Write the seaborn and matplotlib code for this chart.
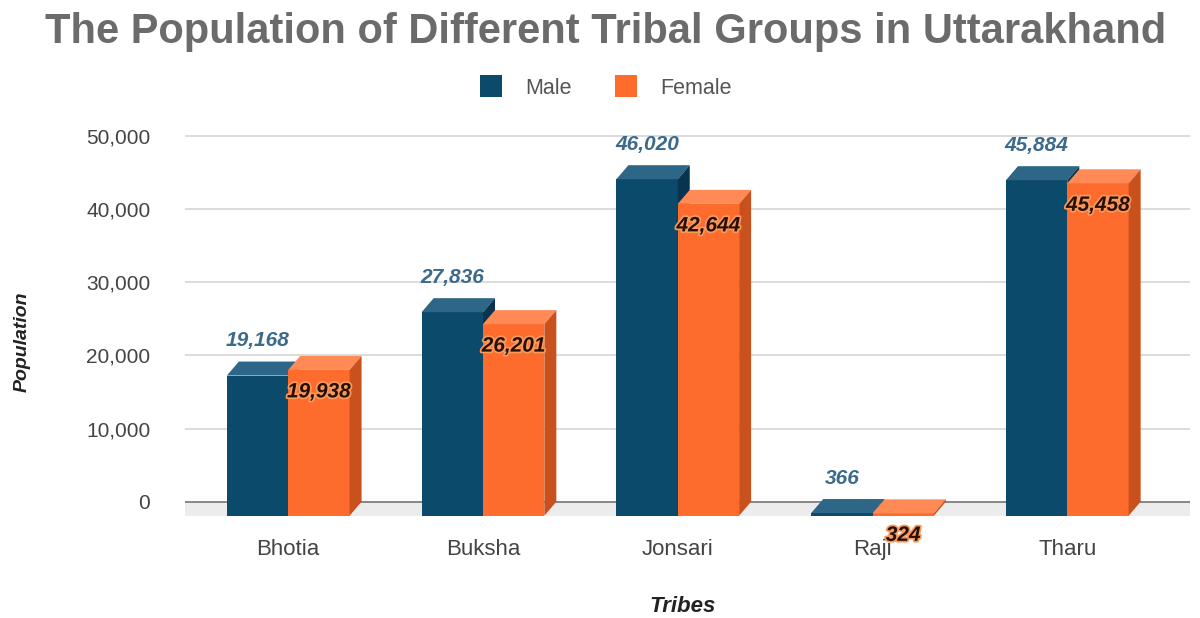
import numpy as np
import pandas as pd
import seaborn as sns
import matplotlib
matplotlib.use("Agg")
import matplotlib.pyplot as plt
from matplotlib.patches import Polygon
import matplotlib.patheffects as pe

tribes = ["Bhotia", "Buksha", "Jonsari", "Raji", "Tharu"]
male = [19168, 27836, 46020, 366, 45884]
female = [19938, 26201, 42644, 324, 45458]
series = ["Male", "Female"]
yticks = [0, 10000, 20000, 30000, 40000, 50000]
title = "The Population of Different Tribal Groups in Uttarakhand"

df = pd.DataFrame({
    "Tribe": tribes * 2,
    "Population": male + female,
    "Sex": [series[0]] * len(tribes) + [series[1]] * len(tribes),
})

sns.set_theme(style="white")
plt.rcParams["font.family"] = ["Liberation Sans", "DejaVu Sans"]

W, H = 1200, 618
fig = plt.figure(figsize=(12, 6.18), dpi=100)
ax_left, ax_right, ax_top, ax_bot = 185, 1190, 120, 520
ax = fig.add_axes([ax_left / W, 1 - ax_bot / H, (ax_right - ax_left) / W, (ax_bot - ax_top) / H])

front = {"Male": "#0c4a6c", "Female": "#fd6b2d"}
topc = {"Male": "#2d6686", "Female": "#ff8a55"}
sidec = {"Male": "#08344f", "Female": "#c9511d"}

sns.barplot(data=df, x="Tribe", y="Population", hue="Sex", palette=front,
            width=0.63, ax=ax, saturation=1, edgecolor="none", linewidth=0)

xlim = (-0.53, 4.63)
ylim = (-2500, 52200)
ax.set_xlim(xlim)
ax.set_ylim(ylim)
ux = (xlim[1] - xlim[0]) / (ax_right - ax_left)
uy = (ylim[1] - ylim[0]) / (ax_bot - ax_top)
dx_px, dy_px = 12, 14
dx, dy = dx_px * ux, dy_px * uy

# floor
ax.add_patch(Polygon([(xlim[0] - dx, -dy), (xlim[1], -dy), (xlim[1], 0), (xlim[0], 0)],
                     closed=True, facecolor="#ececec", edgecolor="none", zorder=1))
ax.axhline(0, color="#808080", lw=1.3, zorder=1.5)

for k, cont in enumerate(ax.containers):
    s = series[k]
    for bar in cont:
        x0 = bar.get_x(); w = bar.get_width(); h = bar.get_height()
        bar.set_y(-dy)
        z = 3 + k
        bar.set_zorder(z)
        ax.add_patch(Polygon([(x0, h - dy), (x0 + w, h - dy), (x0 + w + dx, h), (x0 + dx, h)],
                             closed=True, facecolor=topc[s], edgecolor="none", zorder=z))
        ax.add_patch(Polygon([(x0 + w, -dy), (x0 + w + dx, 0), (x0 + w + dx, h), (x0 + w, h - dy)],
                             closed=True, facecolor=sidec[s], edgecolor="none", zorder=z))
        if k == 0:
            ax.annotate(f"{int(h):,}", (x0 + w / 2, h), xytext=(0, 21), textcoords="offset pixels",
                        ha="center", va="center", fontsize=15, fontstyle="italic", fontweight="bold",
                        color="#3b6a8c", zorder=10)
        else:
            ax.annotate(f"{int(h):,}", (x0 + w / 2, h), xytext=(0, -36), textcoords="offset pixels",
                        ha="center", va="center", fontsize=15, fontstyle="italic", fontweight="bold",
                        color="#2a0e00", zorder=10,
                        path_effects=[pe.withStroke(linewidth=2.5, foreground="#f79a5e")])

ax.set_yticks(yticks)
ax.set_yticklabels([f"{t:,}" for t in yticks])
ax.yaxis.grid(True, color="#dcdcdc", lw=1.4)
ax.set_axisbelow(True)
for sp in ax.spines.values():
    sp.set_visible(False)
ax.tick_params(axis="y", length=0, pad=25, labelsize=15, labelcolor="#444444")
ax.tick_params(axis="x", length=0, pad=14, labelsize=16, labelcolor="#444444")
ax.set_xlabel("")
ax.set_ylabel("")

handles, labels = ax.get_legend_handles_labels()
ax.legend(handles, labels, loc="center", bbox_to_anchor=(0.505, 1 - 87 / H), bbox_transform=fig.transFigure,
          ncol=2, frameon=False, handlelength=1.0, handleheight=1.2, fontsize=15.5,
          columnspacing=2.0, handletextpad=1.1, labelcolor="#555555")

fig.text(0.505, 1 - 32 / H, title, ha="center", va="center", fontsize=30, fontweight="bold", color="#6b6b6b")
fig.text(22 / W, 1 - 342 / H, "Population", rotation=90, ha="center", va="center",
         fontsize=14, fontstyle="italic", fontweight="bold", color="#222222")
fig.text(683 / W, 1 - 606 / H, "Tribes", ha="center", va="center",
         fontsize=16, fontstyle="italic", fontweight="bold", color="#222222")

fig.savefig("out.png", dpi=100)
